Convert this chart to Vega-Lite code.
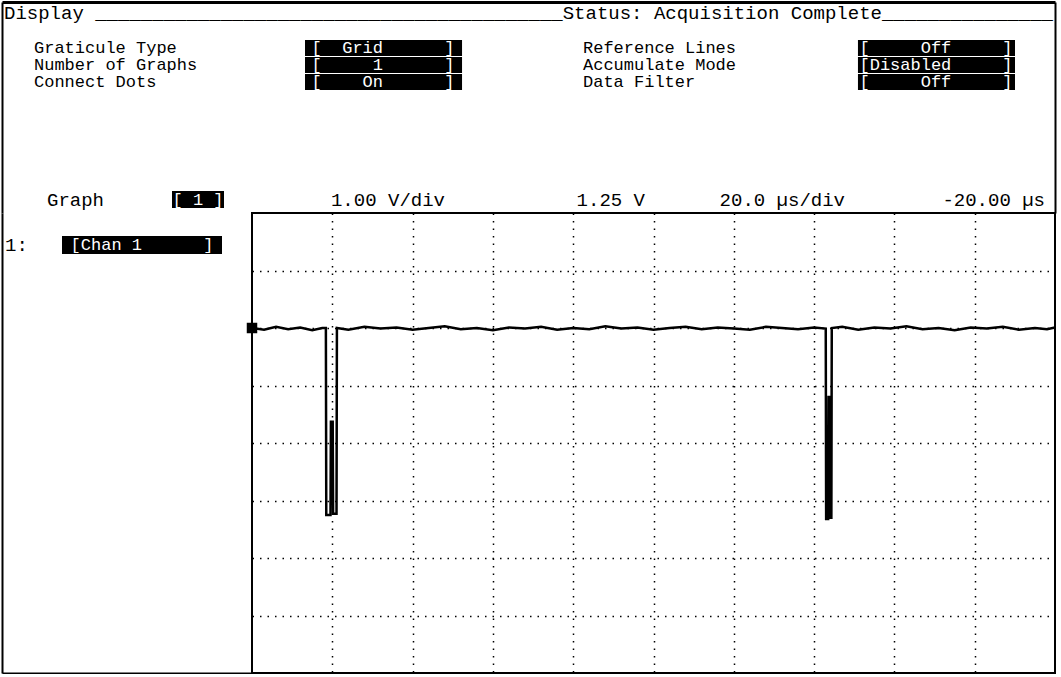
{
  "$schema": "https://vega.github.io/schema/vega-lite/v6.json",
  "background": "white",
  "padding": {"left": 2, "top": 2, "right": 0, "bottom": 0},
  "spacing": 0,
  "bounds": "flush",
  "config": {
    "view": {"stroke": null},
    "text": {"font": "Liberation Mono", "fontSize": 19, "color": "black"},
    "axis": {"labels": false, "ticks": false, "domainColor": "black", "domainWidth": 2, "grid": false}
  },
  "datasets": {
    "screen": [{"screen": "Display", "line": "Display _________________________________________Status: Acquisition Complete_______________"}],
    "settings": [
      {"setting": "Graticule Type", "value": "[\u00a0\u00a0Grid\u00a0\u00a0\u00a0\u00a0\u00a0\u00a0]", "column": "left", "row": 1},
      {"setting": "Number of Graphs", "value": "[\u00a0\u00a0\u00a0\u00a0\u00a01\u00a0\u00a0\u00a0\u00a0\u00a0\u00a0]", "column": "left", "row": 2},
      {"setting": "Connect Dots", "value": "[\u00a0\u00a0\u00a0\u00a0On\u00a0\u00a0\u00a0\u00a0\u00a0\u00a0]", "column": "left", "row": 3},
      {"setting": "Reference Lines", "value": "[\u00a0\u00a0\u00a0\u00a0\u00a0Off\u00a0\u00a0\u00a0\u00a0\u00a0]", "column": "right", "row": 1},
      {"setting": "Accumulate Mode", "value": "[Disabled\u00a0\u00a0\u00a0\u00a0\u00a0]", "column": "right", "row": 2},
      {"setting": "Data Filter", "value": "[\u00a0\u00a0\u00a0\u00a0\u00a0Off\u00a0\u00a0\u00a0\u00a0\u00a0]", "column": "right", "row": 3}
    ],
    "graphsel": [{"label": "Graph", "value": "[\u00a01\u00a0]"}],
    "readouts": [
      {"readout": "scale", "text": "1.00 V/div"},
      {"readout": "offset", "text": "1.25 V"},
      {"readout": "timebase", "text": "20.0 µs/div"},
      {"readout": "delay", "text": "-20.00 µs"}
    ],
    "channels": [{"slot": "1:", "source": "[Chan 1\u00a0\u00a0\u00a0\u00a0\u00a0\u00a0]"}],
    "marker": [{"t_us": -120, "volts": 3.25, "channel": "1"}],
    "wave": [
      {"t_us": -120, "volts": 3.25}, {"t_us": -117, "volts": 3.22}, {"t_us": -114, "volts": 3.27},
      {"t_us": -111, "volts": 3.23}, {"t_us": -108, "volts": 3.26}, {"t_us": -105, "volts": 3.21},
      {"t_us": -102.5, "volts": 3.25}, {"t_us": -101.6, "volts": 3.25}, {"t_us": -101.5, "volts": 0.0},
      {"t_us": -100.45, "volts": 0.0}, {"t_us": -100.35, "volts": 1.62}, {"t_us": -99.9, "volts": 1.62},
      {"t_us": -99.8, "volts": 0.02}, {"t_us": -98.95, "volts": 0.02}, {"t_us": -98.85, "volts": 3.25},
      {"t_us": -96, "volts": 3.22}, {"t_us": -92, "volts": 3.27}, {"t_us": -88, "volts": 3.24},
      {"t_us": -84, "volts": 3.26}, {"t_us": -80, "volts": 3.22}, {"t_us": -76, "volts": 3.25},
      {"t_us": -72, "volts": 3.28}, {"t_us": -68, "volts": 3.23}, {"t_us": -64, "volts": 3.25},
      {"t_us": -60, "volts": 3.21}, {"t_us": -56, "volts": 3.26}, {"t_us": -52, "volts": 3.24},
      {"t_us": -48, "volts": 3.27}, {"t_us": -44, "volts": 3.22}, {"t_us": -40, "volts": 3.25},
      {"t_us": -36, "volts": 3.23}, {"t_us": -32, "volts": 3.28}, {"t_us": -28, "volts": 3.24},
      {"t_us": -24, "volts": 3.26}, {"t_us": -20, "volts": 3.22}, {"t_us": -16, "volts": 3.25},
      {"t_us": -12, "volts": 3.27}, {"t_us": -8, "volts": 3.23}, {"t_us": -4, "volts": 3.26},
      {"t_us": 0, "volts": 3.24}, {"t_us": 4, "volts": 3.22}, {"t_us": 8, "volts": 3.27},
      {"t_us": 12, "volts": 3.25}, {"t_us": 16, "volts": 3.23}, {"t_us": 20, "volts": 3.26},
      {"t_us": 22.9, "volts": 3.24}, {"t_us": 23.0, "volts": -0.07}, {"t_us": 23.5, "volts": -0.07},
      {"t_us": 23.6, "volts": 2.05}, {"t_us": 23.8, "volts": 2.05}, {"t_us": 23.9, "volts": -0.05},
      {"t_us": 24.3, "volts": -0.05}, {"t_us": 24.4, "volts": 3.25}, {"t_us": 27, "volts": 3.27},
      {"t_us": 31, "volts": 3.22}, {"t_us": 35, "volts": 3.26}, {"t_us": 39, "volts": 3.24},
      {"t_us": 43, "volts": 3.28}, {"t_us": 47, "volts": 3.23}, {"t_us": 51, "volts": 3.25},
      {"t_us": 55, "volts": 3.21}, {"t_us": 59, "volts": 3.26}, {"t_us": 63, "volts": 3.24},
      {"t_us": 67, "volts": 3.27}, {"t_us": 71, "volts": 3.22}, {"t_us": 75, "volts": 3.25},
      {"t_us": 78, "volts": 3.23}, {"t_us": 80, "volts": 3.26}
    ]
  },
  "vconcat": [
    {
      "width": 1053,
      "height": 211,
      "resolve": {"scale": {"x": "independent", "y": "independent"}, "axis": {"x": "independent", "y": "independent"}},
      "layer": [
        {
          "data": {"name": "screen"},
          "mark": {"type": "rect", "opacity": 0},
          "encoding": {
            "x": {"field": "screen", "type": "nominal", "scale": {"type": "band", "paddingInner": 0, "paddingOuter": 0},
                  "axis": {"orient": "top", "domain": true, "domainWidth": 3, "title": null}},
            "y": {"field": "screen", "type": "nominal", "scale": {"type": "band", "paddingInner": 0, "paddingOuter": 0},
                  "axis": {"orient": "left", "domain": true, "title": null}}
          }
        },
        {
          "data": {"name": "screen"},
          "mark": {"type": "rect", "opacity": 0},
          "encoding": {
            "x": {"field": "screen", "type": "nominal", "scale": {"type": "band", "paddingInner": 0, "paddingOuter": 0}, "axis": null},
            "y": {"field": "screen", "type": "nominal", "scale": {"type": "band", "paddingInner": 0, "paddingOuter": 0},
                  "axis": {"orient": "right", "domain": true, "title": null}}
          }
        },
        {
          "data": {"name": "screen"},
          "mark": {"type": "text", "align": "left", "baseline": "middle"},
          "encoding": {
            "text": {"field": "line"},
            "x": {"field": "screen", "type": "nominal", "scale": {"type": "point", "range": [2, 2]}, "axis": null},
            "y": {"field": "screen", "type": "nominal", "scale": {"type": "point", "range": [11, 11]}, "axis": null}
          }
        },
        {
          "data": {"name": "settings"},
          "mark": {"type": "text", "align": "left", "baseline": "middle", "fontSize": 17},
          "encoding": {
            "text": {"field": "setting"},
            "x": {"field": "column", "type": "nominal", "scale": {"type": "point", "domain": ["left", "right"], "padding": 0, "range": [32, 581]}, "axis": null},
            "y": {"field": "row", "type": "ordinal", "scale": {"type": "point", "domain": [1, 2, 3], "padding": 0, "range": [46, 80]}, "axis": null}
          }
        },
        {
          "data": {"name": "settings"},
          "mark": {"type": "rect", "color": "black"},
          "encoding": {
            "x": {"field": "column", "type": "nominal", "scale": {"type": "band", "domain": ["left", "right"], "paddingInner": 0.716, "paddingOuter": 0, "range": [303, 1013]}, "axis": null},
            "y": {"field": "row", "type": "ordinal", "scale": {"type": "band", "domain": [1, 2, 3], "paddingInner": 0.06, "paddingOuter": 0, "range": [38, 88]}, "axis": null}
          }
        },
        {
          "data": {"name": "settings"},
          "mark": {"type": "text", "align": "center", "baseline": "middle", "color": "white", "fontSize": 17},
          "encoding": {
            "text": {"field": "value"},
            "x": {"field": "column", "type": "nominal", "scale": {"type": "point", "domain": ["left", "right"], "padding": 0, "range": [381, 934]}, "axis": null},
            "y": {"field": "row", "type": "ordinal", "scale": {"type": "point", "domain": [1, 2, 3], "padding": 0, "range": [46, 80]}, "axis": null}
          }
        },
        {
          "data": {"name": "graphsel"},
          "mark": {"type": "text", "align": "left", "baseline": "middle"},
          "encoding": {
            "text": {"field": "label"},
            "x": {"field": "label", "type": "nominal", "scale": {"type": "point", "range": [45, 45]}, "axis": null},
            "y": {"field": "label", "type": "nominal", "scale": {"type": "point", "range": [198, 198]}, "axis": null}
          }
        },
        {
          "data": {"name": "graphsel"},
          "mark": {"type": "rect", "color": "black"},
          "encoding": {
            "x": {"field": "value", "type": "nominal", "scale": {"type": "band", "paddingInner": 0, "paddingOuter": 0, "range": [170, 222]}, "axis": null},
            "y": {"field": "value", "type": "nominal", "scale": {"type": "band", "paddingInner": 0, "paddingOuter": 0, "range": [189, 206]}, "axis": null}
          }
        },
        {
          "data": {"name": "graphsel"},
          "mark": {"type": "text", "align": "center", "baseline": "middle", "color": "white", "fontSize": 17},
          "encoding": {
            "text": {"field": "value"},
            "x": {"field": "value", "type": "nominal", "scale": {"type": "point", "range": [196, 196]}, "axis": null},
            "y": {"field": "value", "type": "nominal", "scale": {"type": "point", "range": [198, 198]}, "axis": null}
          }
        },
        {
          "data": {"name": "readouts"},
          "mark": {"type": "text", "align": "right", "baseline": "middle"},
          "encoding": {
            "text": {"field": "text"},
            "x": {"field": "readout", "type": "nominal", "scale": {"type": "point", "domain": ["scale", "offset", "timebase", "delay"], "padding": 0, "range": [443, 1043]}, "axis": null},
            "y": {"field": "readout", "type": "nominal", "scale": {"type": "point", "range": [198, 198]}, "axis": null}
          }
        }
      ]
    },
    {
      "hconcat": [
        {
          "width": 250,
          "height": 460,
          "resolve": {"scale": {"x": "independent", "y": "independent"}, "axis": {"x": "independent", "y": "independent"}},
          "layer": [
            {
              "data": {"name": "channels"},
              "mark": {"type": "rect", "opacity": 0},
              "encoding": {
                "x": {"field": "slot", "type": "nominal", "scale": {"type": "band", "paddingInner": 0, "paddingOuter": 0},
                      "axis": {"orient": "bottom", "domain": true, "title": null}},
                "y": {"field": "slot", "type": "nominal", "scale": {"type": "band", "paddingInner": 0, "paddingOuter": 0},
                      "axis": {"orient": "left", "domain": true, "title": null}}
              }
            },
            {
              "data": {"name": "channels"},
              "mark": {"type": "text", "align": "left", "baseline": "middle"},
              "encoding": {
                "text": {"field": "slot"},
                "x": {"field": "slot", "type": "nominal", "scale": {"type": "point", "range": [3, 3]}, "axis": null},
                "y": {"field": "slot", "type": "nominal", "scale": {"type": "point", "range": [32, 32]}, "axis": null}
              }
            },
            {
              "data": {"name": "channels"},
              "mark": {"type": "rect", "color": "black"},
              "encoding": {
                "x": {"field": "source", "type": "nominal", "scale": {"type": "band", "paddingInner": 0, "paddingOuter": 0, "range": [60, 220]}, "axis": null},
                "y": {"field": "source", "type": "nominal", "scale": {"type": "band", "paddingInner": 0, "paddingOuter": 0, "range": [23, 41]}, "axis": null}
              }
            },
            {
              "data": {"name": "channels"},
              "mark": {"type": "text", "align": "center", "baseline": "middle", "color": "white", "fontSize": 17},
              "encoding": {
                "text": {"field": "source"},
                "x": {"field": "source", "type": "nominal", "scale": {"type": "point", "range": [140, 140]}, "axis": null},
                "y": {"field": "source", "type": "nominal", "scale": {"type": "point", "range": [32, 32]}, "axis": null}
              }
            }
          ]
        },
        {
          "width": 803,
          "height": 460,
          "view": {"stroke": "black", "strokeWidth": 2},
          "encoding": {
            "x": {"field": "t_us", "type": "quantitative",
                  "scale": {"domain": [-120, 80], "nice": false, "zero": false},
                  "axis": {"values": [-100, -80, -60, -40, -20, 0, 20, 40, 60], "grid": true, "gridColor": "black", "gridDash": [1.5, 6], "gridWidth": 1.5, "domain": false, "title": null}},
            "y": {"field": "volts", "type": "quantitative",
                  "scale": {"domain": [-2.75, 5.25], "nice": false, "zero": false},
                  "axis": {"values": [-1.75, -0.75, 0.25, 1.25, 2.25, 3.25, 4.25], "grid": true, "gridColor": "black", "gridDash": [1.5, 6], "gridWidth": 1.5, "domain": false, "title": null}}
          },
          "layer": [
            {
              "data": {"name": "wave"},
              "mark": {"type": "line", "color": "black", "strokeWidth": 2.5}
            },
            {
              "data": {"name": "marker"},
              "mark": {"type": "point", "shape": "square", "filled": true, "color": "black", "size": 110, "opacity": 1}
            }
          ]
        }
      ],
      "spacing": 0,
      "bounds": "flush"
    }
  ]
}
